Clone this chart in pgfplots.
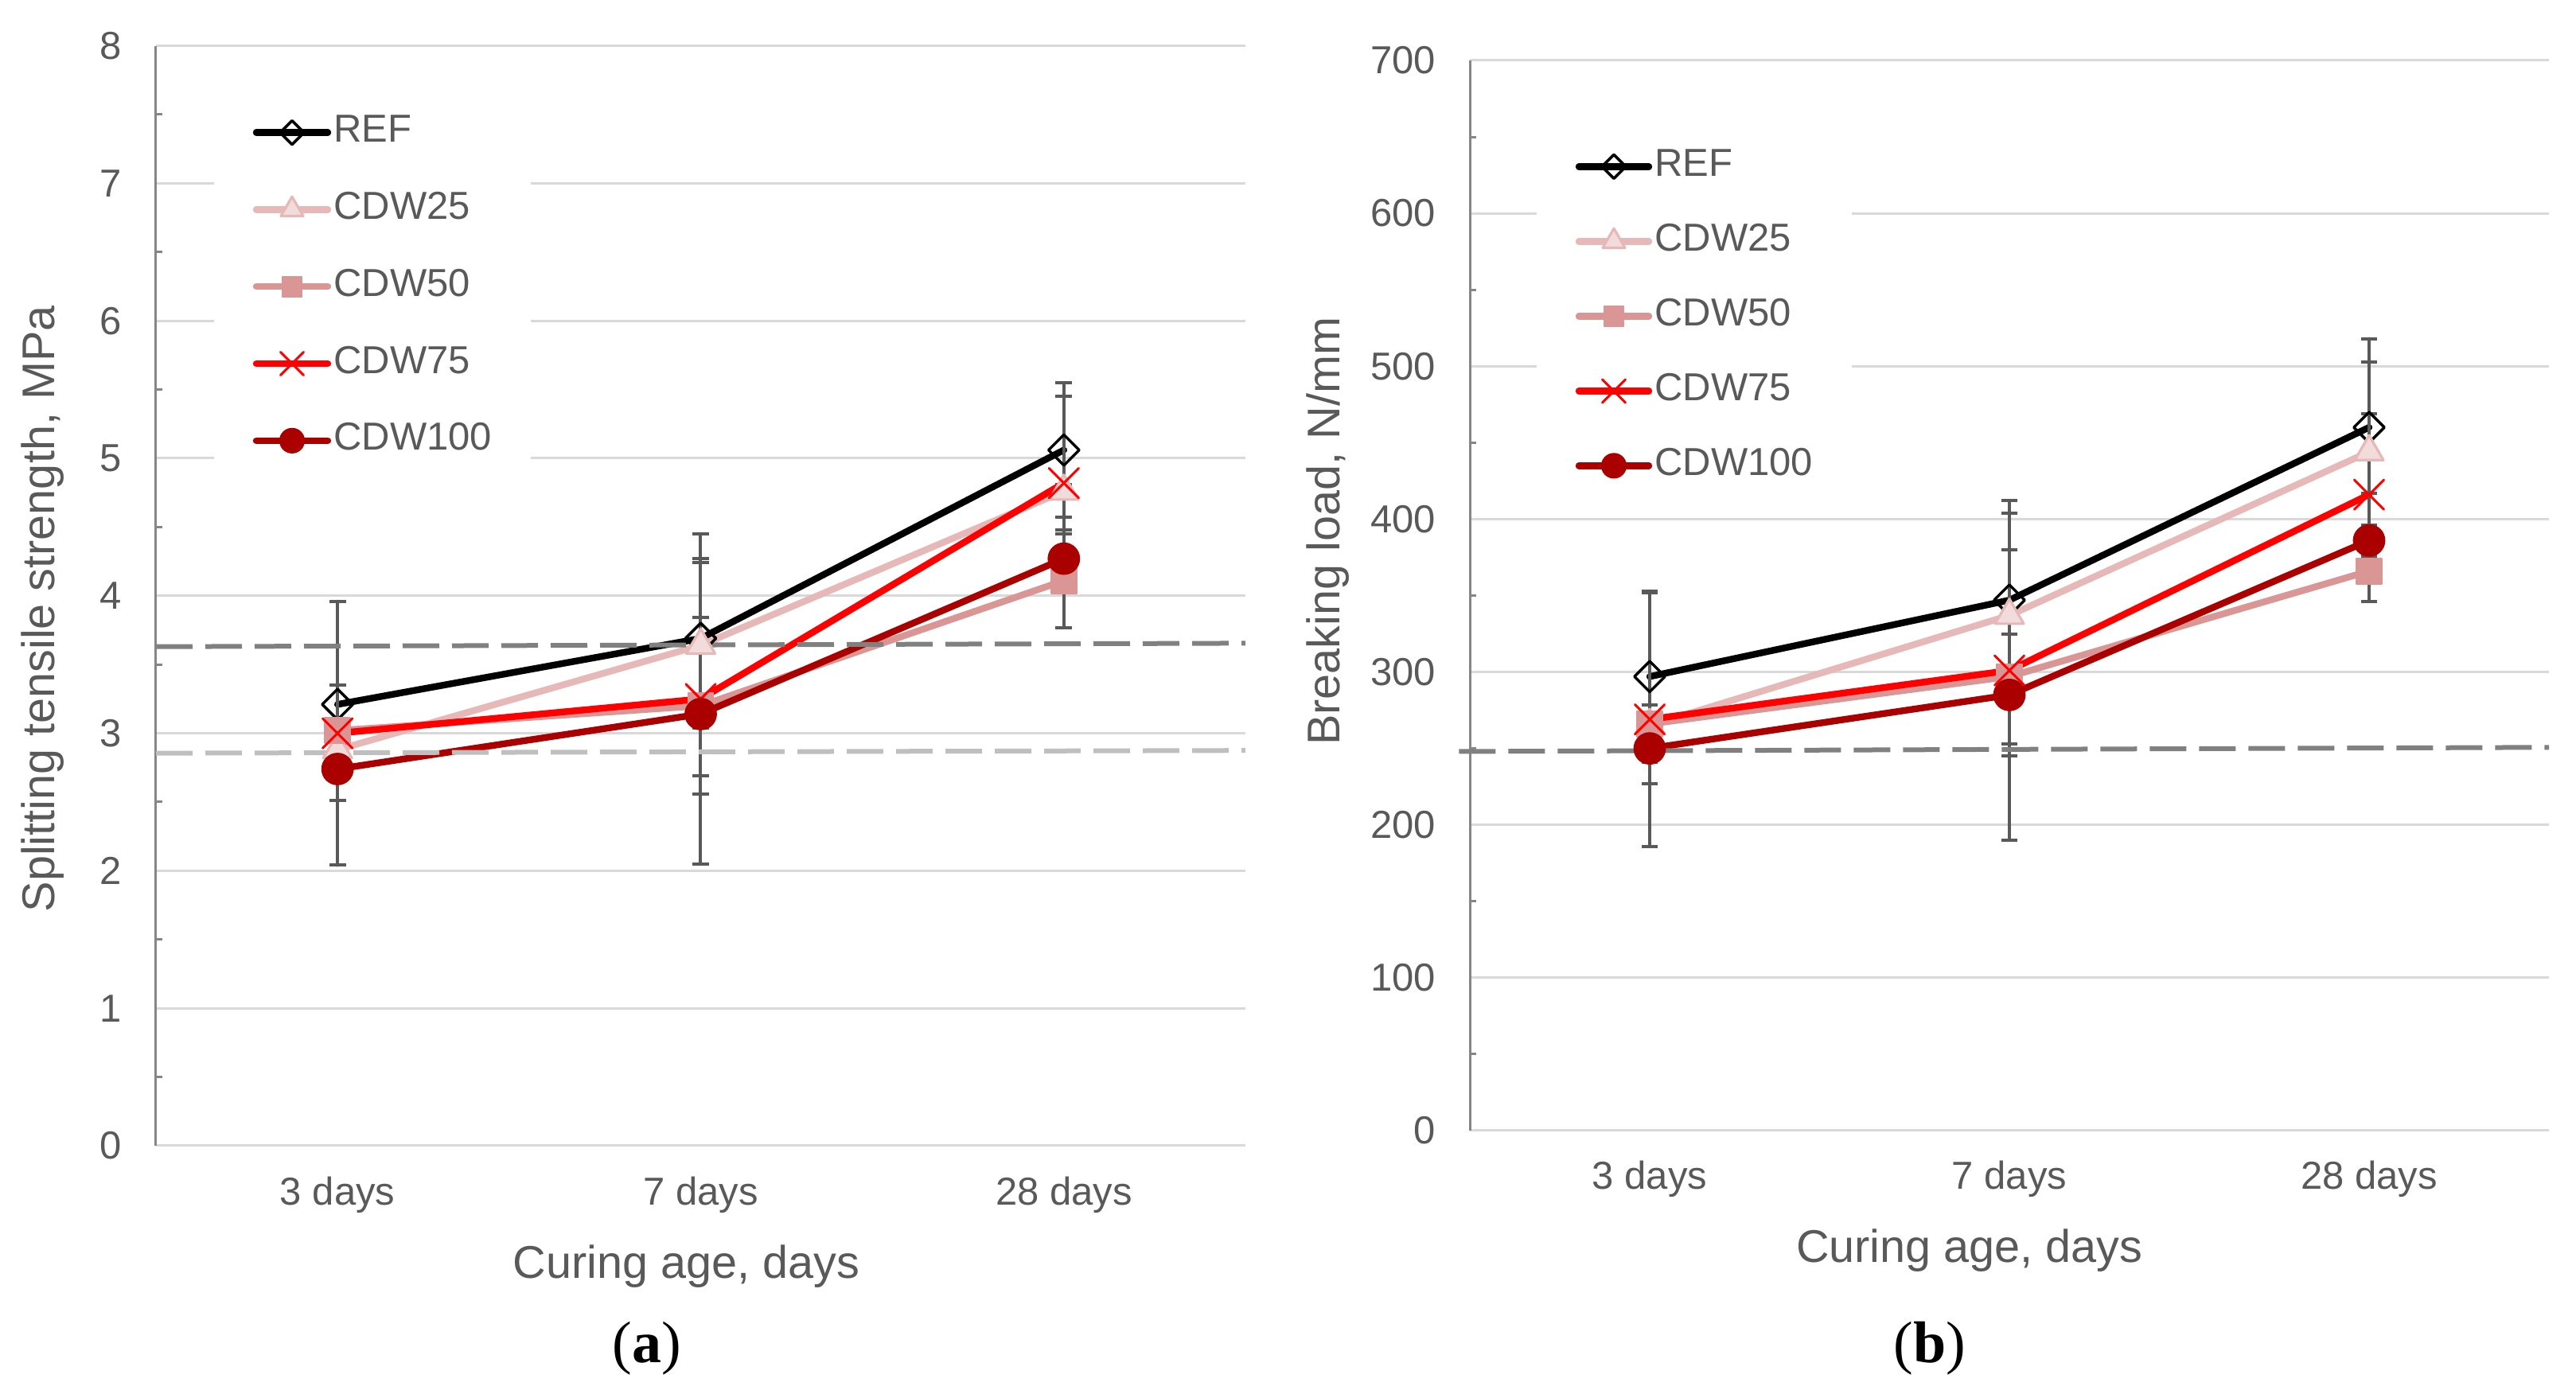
\documentclass[border=0pt]{standalone}
\usepackage{fontspec}
\setmainfont{Liberation Sans}
\newfontfamily\seriffont{Liberation Serif}
\usepackage{pgfplots}
\pgfplotsset{compat=1.18}
\definecolor{textgray}{HTML}{595959}
\definecolor{gridgray}{HTML}{D9D9D9}
\definecolor{axisgray}{HTML}{868686}
\definecolor{errgray}{HTML}{595959}
\definecolor{dashdark}{HTML}{808080}
\definecolor{dashlight}{HTML}{BFBFBF}
\definecolor{c25}{HTML}{E6B9B8}
\definecolor{c25fill}{HTML}{F2DCDB}
\definecolor{c50}{HTML}{D99694}
\definecolor{c75}{HTML}{FF0000}
\definecolor{c100}{HTML}{AA0000}
\pgfplotsset{
  base/.style={
    scale only axis,
    xmin=-0.5, xmax=2.5,
    xtick={0,1,2}, xticklabels={3 days,7 days,28 days},
    axis x line=bottom, axis y line=left, axis line style={-},
    x axis line style={draw=gridgray, line width=0.75pt},
    y axis line style={draw=axisgray, line width=0.75pt},
    ymajorgrids, grid style={draw=gridgray, line width=0.75pt},
    major tick length=0pt, minor tick length=2pt, tick align=inside,
    minor y tick num=1, minor tick style={draw=axisgray, line width=0.75pt},
    xtick style={draw=none},
    tick label style={font=\fontsize{12.25}{14}\selectfont, text=textgray},
    /pgf/number format/assume math mode=true,
    yticklabel style={anchor=east, inner sep=0pt, xshift=-10.5pt},
    xticklabel style={anchor=base, inner sep=0pt},
    label style={font=\fontsize{14.4}{17}\selectfont, text=textgray},
    clip=false,
    legend cell align=left,
  },
  errs/.style={error bars/.cd, y dir=both, y explicit, error mark=|,
    error bar style={draw=errgray, line width=1pt, solid},
    error mark options={draw=errgray, line width=1pt, mark size=2.6pt, solid}},
  sref/.style={draw=black, line width=2.1pt, line join=round, line cap=round, mark=square, mark size=3.4pt,
    mark options={rotate=45, fill=white, draw=black, line width=0.85pt}},
  s25/.style={draw=c25, line width=2.1pt, line join=round, line cap=round, mark=triangle*, mark size=5.2pt,
    mark options={fill=c25fill, draw=c25, line width=0.8pt}},
  s50/.style={draw=c50, line width=2.1pt, line join=round, line cap=round, mark=square*, mark size=4pt,
    mark options={fill=c50, draw=c50, line width=0.4pt}},
  s75/.style={draw=c75, line width=2.1pt, line join=round, line cap=round, mark=x, mark size=6.6pt,
    mark options={draw=c75, line width=0.75pt}},
  s100/.style={draw=c100, line width=2.1pt, line join=round, line cap=round, mark=*, mark size=4.9pt,
    mark options={fill=c100, draw=c100, line width=0.4pt}},
}
\begin{document}
\begin{tikzpicture}
\useasboundingbox (0,0) rectangle (809.25pt,438pt);
% ---------------- (a) ----------------
\begin{axis}[base,
  at={(49pt,78pt)}, anchor=south west,
  width=342.25pt, height=345.6pt,
  ymin=0, ymax=8, ytick={0,1,...,8},
  xticklabel style={yshift=-18.75pt},
  ylabel={Splitting tensile strength, MPa},
  ylabel style={at={(axis description cs:-0.1037,0.488)}, anchor=center},
  xlabel={Curing age, days},
  xlabel style={at={(axis description cs:0.487,0)}, anchor=base, yshift=-41.75pt},
  legend image code/.code={\draw[mark repeat=2,mark phase=2,every mark/.append style={scale=0.78}]
     plot coordinates {(0pt,0pt) (11.25pt,0pt) (22.5pt,0pt)};},
  legend style={at={(axis description cs:0.0526,0.968)}, anchor=north west,
    draw=none, fill=white, inner xsep=12.25pt, inner ysep=10pt,
    font=\fontsize{12.25}{14}\selectfont, text=textgray,
    row sep=12.2pt, column sep=0.8pt,
    nodes={inner sep=0pt, text height=9pt, text depth=3pt}},
]
\addplot[sref, errs] coordinates {(0,3.21) +- (0,0.14) (1,3.69) +- (0,0.58) (2,5.06) +- (0,0.49)};
\addlegendentry{REF}
\addplot[s25, errs] coordinates {(0,2.88) +- (0,0.05) (1,3.64) +- (0,0.60) (2,4.76) +- (0,0.05)};
\addlegendentry{CDW25}
\addplot[s50, errs] coordinates {(0,3.02) +- (0,0.05) (1,3.20) +- (0,0.64) (2,4.11) +- (0,0.34)};
\addlegendentry{CDW50}
\addplot[s75, errs] coordinates {(0,3.00) +- (0,0.96) (1,3.25) +- (0,1.20) (2,4.82) +- (0,0.63)};
\addlegendentry{CDW75}
\addplot[s100, errs] coordinates {(0,2.74) +- (0,0.23) (1,3.14) +- (0,0.45) (2,4.27) +- (0,0.21)};
\addlegendentry{CDW100}
\addplot[forget plot, draw=dashdark, line width=1.5pt, dash pattern=on 11.5pt off 4pt] coordinates {(-0.5,3.63) (2.5,3.655)};
\addplot[forget plot, draw=dashlight, line width=1.5pt, dash pattern=on 11.5pt off 4pt] coordinates {(-0.5,2.855) (2.5,2.875)};
\end{axis}
% ---------------- (b) ----------------
\begin{axis}[base,
  at={(461.75pt,82.75pt)}, anchor=south west,
  width=339pt, height=336.25pt,
  ymin=0, ymax=700, ytick={0,100,...,700},
  xticklabel style={yshift=-18.3pt},
  ylabel={Breaking load, N/mm},
  ylabel style={at={(axis description cs:-0.1316,0.56)}, anchor=center},
  xlabel={Curing age, days},
  xlabel style={at={(axis description cs:0.463,0)}, anchor=base, yshift=-41.5pt},
  legend image code/.code={\draw[mark repeat=2,mark phase=2,every mark/.append style={scale=0.78}]
     plot coordinates {(0pt,0pt) (11pt,0pt) (22pt,0pt)};},
  legend style={at={(axis description cs:0.0612,0.949)}, anchor=north west,
    draw=none, fill=white, inner xsep=12.25pt, inner ysep=10pt,
    font=\fontsize{12.25}{14}\selectfont, text=textgray,
    row sep=11.5pt, column sep=0.8pt,
    nodes={inner sep=0pt, text height=9pt, text depth=3pt}},
]
\addplot[sref, errs] coordinates {(0,297) +- (0,56) (1,347) +- (0,57) (2,460) +- (0,43)};
\addlegendentry{REF}
\addplot[s25, errs] coordinates {(0,265) +- (0,5) (1,337) +- (0,43) (2,444) +- (0,74)};
\addlegendentry{CDW25}
\addplot[s50, errs] coordinates {(0,266) +- (0,12.6) (1,297) +- (0,44) (2,366) +- (0,20)};
\addlegendentry{CDW50}
\addplot[s75, errs] coordinates {(0,269) +- (0,83) (1,301) +- (0,111) (2,416) +- (0,53)};
\addlegendentry{CDW75}
\addplot[s100, errs] coordinates {(0,250) +- (0,23) (1,285) +- (0,40) (2,386) +- (0,10)};
\addlegendentry{CDW100}
\addplot[forget plot, draw=dashdark, line width=1.5pt, dash pattern=on 11.5pt off 4pt] coordinates {(-0.53,248) (2.5,250.7)};
\end{axis}
\node[font=\seriffont\fontsize{18.5}{20}\selectfont, anchor=base] at (203.25pt,9.75pt) {(\textbf{a})};
\node[font=\seriffont\fontsize{18.5}{20}\selectfont, anchor=base] at (606.25pt,9.75pt) {(\textbf{b})};
\end{tikzpicture}
\end{document}
